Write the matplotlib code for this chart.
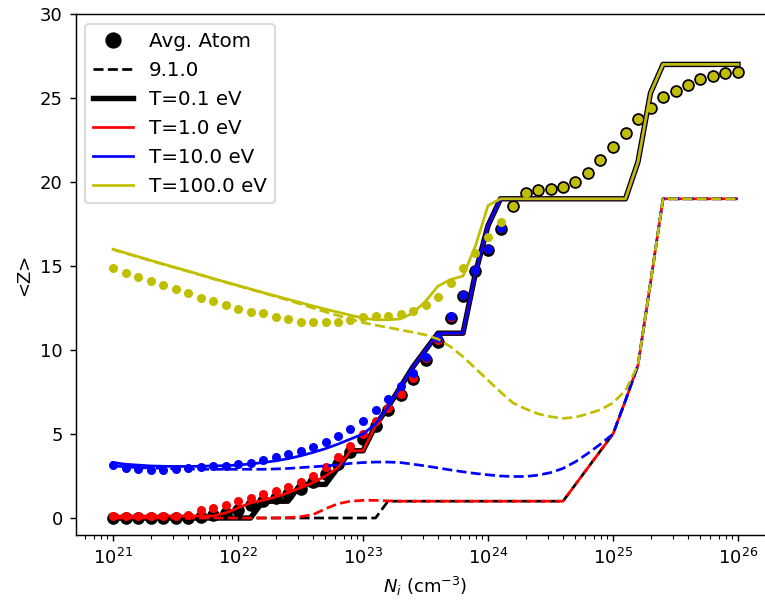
import numpy as np
import matplotlib
matplotlib.use('Agg')
import matplotlib.pyplot as plt
from matplotlib.lines import Line2D

# ion density grid, 0.1 decade steps from 1e21 to 1e26
log_ni = np.linspace(21.0, 26.0, 51)
ni = 10.0**log_ni

temps = ['0.1', '1.0', '10.0', '100.0']
colors = ['k', 'r', 'b', 'y']

# average atom <Z>
aa_01 = [0.0, 0.0, 0.0, 0.0, 0.0, 0.0, 0.0, 0.05, 0.15, 0.3,
         0.5, 0.75, 1.0, 1.2, 1.45, 1.75, 2.15, 2.6, 3.2, 3.9,
         4.7, 5.5, 6.4, 7.3, 8.25, 9.4, 10.5, 11.9, 13.2, 14.7,
         15.95, 17.2, 18.55, 19.33, 19.52, 19.56, 19.68, 20.02, 20.52, 21.31,
         22.1, 22.93, 23.75, 24.42, 25.04, 25.44, 25.77, 26.13, 26.33, 26.47, 26.53]
aa_1 = [0.12, 0.12, 0.12, 0.12, 0.12, 0.12, 0.2, 0.45, 0.6, 0.8,
        1.0, 1.2, 1.4, 1.6, 1.85, 2.15, 2.5, 3.05, 3.65, 4.3,
        5.0, 5.75, 6.55, 7.4, 8.35, 9.5, 10.6, 11.95, 13.25, 14.75,
        16.0, 17.25, 18.55, 19.33, 19.52, 19.56, 19.68, 20.02, 20.52, 21.31,
        22.1, 22.93, 23.75, 24.42, 25.04, 25.44, 25.77, 26.13, 26.33, 26.47, 26.53]
aa_10 = [3.15, 2.96, 2.9, 2.86, 2.86, 2.9, 3.0, 3.05, 3.1, 3.12,
         3.2, 3.3, 3.45, 3.62, 3.8, 4.0, 4.25, 4.55, 4.88, 5.32,
         5.8, 6.4, 7.1, 7.85, 8.65, 9.6, 10.7, 12.0, 13.3, 14.75,
         16.0, 17.25, 18.55, 19.33, 19.52, 19.56, 19.68, 20.02, 20.52, 21.31,
         22.1, 22.93, 23.75, 24.42, 25.04, 25.44, 25.77, 26.13, 26.33, 26.47, 26.53]
aa_100 = [14.86, 14.6, 14.37, 14.13, 13.87, 13.61, 13.37, 13.11, 12.93, 12.68,
          12.42, 12.26, 12.18, 11.98, 11.85, 11.69, 11.69, 11.69, 11.69, 11.79,
          11.98, 12.04, 12.04, 12.12, 12.32, 12.68, 13.14, 13.97, 14.86, 15.79,
          16.71, 17.64, 18.55, 19.33, 19.52, 19.56, 19.68, 20.02, 20.52, 21.31,
          22.1, 22.93, 23.75, 24.42, 25.04, 25.44, 25.77, 26.13, 26.33, 26.47, 26.53]

# new model <Z> (solid lines)
new_01 = [0.0, 0.0, 0.0, 0.0, 0.0, 0.0, 0.0, 0.0, 0.0, 0.0,
          0.0, 0.0, 1.0, 1.0, 1.0, 2.0, 2.0, 2.0, 3.0, 4.0,
          4.0, 5.5, 6.6, 7.8, 9.0, 10.0, 11.0, 11.0, 11.0, 14.6,
          17.4, 19.0, 19.0, 19.0, 19.0, 19.0, 19.0, 19.0, 19.0, 19.0,
          19.0, 19.0, 21.2, 25.3, 27.0, 27.0, 27.0, 27.0, 27.0, 27.0, 27.0]
new_1 = [0.12, 0.12, 0.12, 0.12, 0.12, 0.12, 0.12, 0.12, 0.12, 0.3,
         0.6, 0.9, 1.05, 1.25, 1.5, 1.8, 2.1, 2.5, 3.0, 4.0,
         4.0, 5.5, 6.6, 7.8, 9.0, 10.0, 11.0, 11.0, 11.0, 14.6,
         17.4, 19.0, 19.0, 19.0, 19.0, 19.0, 19.0, 19.0, 19.0, 19.0,
         19.0, 19.0, 21.2, 25.3, 27.0, 27.0, 27.0, 27.0, 27.0, 27.0, 27.0]
new_10 = [3.3, 3.2, 3.15, 3.1, 3.08, 3.07, 3.07, 3.08, 3.1, 3.12,
          3.15, 3.22, 3.3, 3.4, 3.53, 3.7, 3.9, 4.13, 4.4, 4.7,
          5.0, 5.6, 6.6, 7.8, 9.0, 10.0, 11.0, 11.0, 11.0, 14.6,
          17.4, 19.0, 19.0, 19.0, 19.0, 19.0, 19.0, 19.0, 19.0, 19.0,
          19.0, 19.0, 21.2, 25.3, 27.0, 27.0, 27.0, 27.0, 27.0, 27.0, 27.0]
new_100 = [16.0, 15.78, 15.56, 15.34, 15.12, 14.91, 14.7, 14.48, 14.26, 14.05,
           13.84, 13.63, 13.42, 13.22, 13.02, 12.82, 12.62, 12.43, 12.25, 12.07,
           11.9, 11.8, 11.8, 11.85, 12.2, 12.9, 13.8, 14.2, 14.4, 16.2,
           18.6, 19.0, 19.0, 19.0, 19.0, 19.0, 19.0, 19.0, 19.0, 19.0,
           19.0, 19.0, 21.2, 25.3, 27.0, 27.0, 27.0, 27.0, 27.0, 27.0, 27.0]

# version 9.1.0 <Z> (dashed lines)
old_01 = [0.0] * 22 + [1.0] * 15 + [2.0, 3.0, 4.0, 5.0, 7.0, 9.1, 14.0,
                                    19.0, 19.0, 19.0, 19.0, 19.0, 19.0, 19.0]
old_1 = [0.0, 0.0, 0.0, 0.0, 0.0, 0.0, 0.0, 0.0, 0.0, 0.0,
         0.0, 0.0, 0.0, 0.0, 0.02, 0.08, 0.2, 0.55, 0.85, 1.0,
         1.05, 1.05, 1.02, 1.0, 1.0, 1.0, 1.0, 1.0, 1.0, 1.0,
         1.0, 1.0, 1.0, 1.0, 1.0, 1.0, 1.0, 2.0, 3.0, 4.0,
         5.0, 7.0, 9.1, 14.0, 19.0, 19.0, 19.0, 19.0, 19.0, 19.0, 19.0]
old_10 = [3.1, 3.05, 3.0, 2.98, 2.95, 2.93, 2.92, 2.9, 2.9, 2.9,
          2.9, 2.9, 2.9, 2.92, 2.95, 3.0, 3.05, 3.1, 3.17, 3.25,
          3.3, 3.33, 3.33, 3.3, 3.2, 3.1, 2.98, 2.86, 2.75, 2.65,
          2.57, 2.5, 2.47, 2.47, 2.55, 2.7, 2.95, 3.35, 3.85, 4.4,
          5.0, 7.0, 9.1, 14.0, 19.0, 19.0, 19.0, 19.0, 19.0, 19.0, 19.0]
old_100 = [15.98, 15.76, 15.54, 15.32, 15.1, 14.89, 14.68, 14.46, 14.24, 14.03,
           13.82, 13.61, 13.4, 13.19, 12.97, 12.74, 12.5, 12.27, 12.05, 11.84,
           11.63, 11.48, 11.34, 11.2, 11.05, 10.9, 10.65, 10.2, 9.6, 8.9,
           8.2, 7.5, 6.85, 6.5, 6.2, 6.03, 5.93, 6.0, 6.2, 6.45,
           6.85, 7.6, 9.1, 14.0, 19.0, 19.0, 19.0, 19.0, 19.0, 19.0, 19.0]

avg_atom = [aa_01, aa_1, aa_10, aa_100]
new_model = [new_01, new_1, new_10, new_100]
old_model = [old_01, old_1, old_10, old_100]

fig = plt.figure(figsize=(765/130, 610/130), dpi=130)
ax = fig.add_axes([75.5/765, 75.2/610, 700/765, 520.8/610])

for i in range(4):
    c = colors[i]
    ms = 7 if i == 0 else 5
    lw = 3 if i == 0 else 1.5
    ax.plot(ni, avg_atom[i], 'o', color=c, ms=ms, mew=0)
    ax.plot(ni, new_model[i], '-', color=c, lw=lw)
    ax.plot(ni, old_model[i], '--', color=c, lw=1.5)

ax.set_xscale('log')
ax.set_xlim(10**20.7, 10**26.3)
ax.set_ylim(-1, 30)
ax.set_xlabel('$N_i$ (cm$^{-3}$)')
ax.set_ylabel('<Z>')

handles = [Line2D([], [], color='k', marker='o', ls='', ms=8),
           Line2D([], [], color='k', ls='--', lw=1.5),
           Line2D([], [], color='k', lw=3)]
labels = ['Avg. Atom', '9.1.0', 'T=' + temps[0] + ' eV']
for i in range(1, 4):
    handles.append(Line2D([], [], color=colors[i], lw=1.5))
    labels.append('T=' + temps[i] + ' eV')
ax.legend(handles, labels, loc='upper left', fontsize=11)

fig.savefig('out.png', dpi=130)
